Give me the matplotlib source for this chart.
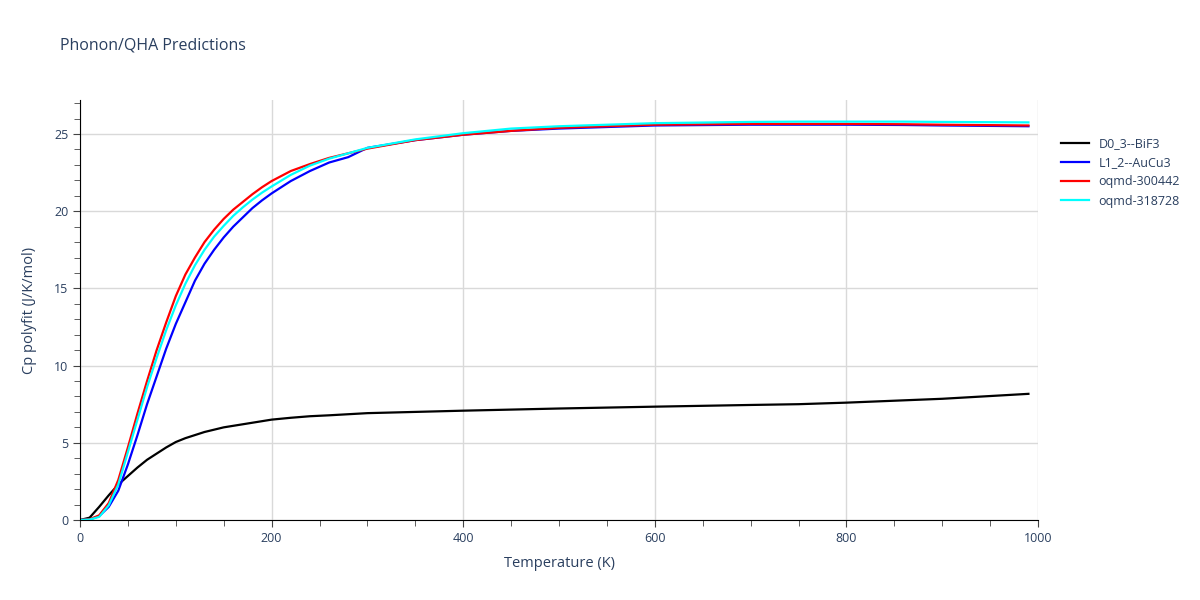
import numpy as np
import matplotlib.pyplot as plt
from matplotlib.ticker import MultipleLocator

# temperature grid (K) shared by all series
T = [0, 10, 20, 30, 40, 50, 60, 70, 80, 90, 100, 110, 120, 130, 140, 150, 160, 170,
     180, 190, 200, 220, 240, 260, 280, 300, 350, 400, 450, 500, 600, 700, 750,
     800, 860, 900, 990]

cp_bif3 = [0.0, 0.15, 0.85, 1.6, 2.3, 2.85, 3.4, 3.9, 4.3, 4.7, 5.05, 5.3, 5.5, 5.7,
           5.85, 6.0, 6.1, 6.2, 6.3, 6.4, 6.5, 6.62, 6.72, 6.78, 6.85, 6.92, 7.0, 7.08,
           7.15, 7.22, 7.34, 7.45, 7.5, 7.6, 7.75, 7.85, 8.17]

cp_aucu3 = [0.0, 0.03, 0.25, 0.85, 1.9, 3.6, 5.5, 7.5, 9.3, 11.1, 12.7, 14.1, 15.5,
            16.6, 17.5, 18.3, 19.0, 19.6, 20.2, 20.7, 21.15, 21.95, 22.6, 23.15, 23.5,
            24.1, 24.6, 24.95, 25.2, 25.35, 25.55, 25.6, 25.6, 25.6, 25.58, 25.55, 25.5]

cp_300442 = [0.0, 0.05, 0.3, 1.1, 2.6, 4.7, 6.9, 9.0, 11.0, 12.8, 14.5, 15.9, 17.0,
             18.0, 18.8, 19.5, 20.1, 20.6, 21.1, 21.55, 21.95, 22.6, 23.05, 23.45, 23.75,
             24.05, 24.6, 24.95, 25.2, 25.4, 25.6, 25.65, 25.65, 25.65, 25.63, 25.6, 25.55]

cp_318728 = [0.0, 0.03, 0.2, 0.95, 2.3, 4.4, 6.5, 8.6, 10.5, 12.3, 13.9, 15.3, 16.5,
             17.5, 18.35, 19.05, 19.7, 20.25, 20.75, 21.2, 21.6, 22.35, 22.95, 23.4, 23.75,
             24.1, 24.65, 25.05, 25.35, 25.5, 25.7, 25.78, 25.8, 25.8, 25.8, 25.78, 25.75]

labels = ['D0_3--BiF3', 'L1_2--AuCu3', 'oqmd-300442', 'oqmd-318728']
colors = ['black', 'blue', 'red', 'cyan']

plt.rcParams['font.family'] = ['Open Sans', 'DejaVu Sans']
txt = '#2a3f5f'

fig = plt.figure(figsize=(12, 6), dpi=100)
ax = fig.add_axes([80/1200, 80/600, 958/1200, 420/600])

for ys, lab, col in zip([cp_bif3, cp_aucu3, cp_300442, cp_318728], labels, colors):
    ax.plot(T, ys, color=col, lw=1.6, label=lab)

ax.set_xlim(0, 1000)
ax.set_ylim(0, 27.2)
ax.xaxis.set_major_locator(MultipleLocator(200))
ax.xaxis.set_minor_locator(MultipleLocator(50))
ax.yaxis.set_major_locator(MultipleLocator(5))
ax.yaxis.set_minor_locator(MultipleLocator(1))
ax.grid(True, which='major', color='#d9d9d9', lw=1)
ax.set_axisbelow(True)
for s in ['top', 'right']:
    ax.spines[s].set_visible(False)
for s in ['left', 'bottom']:
    ax.spines[s].set_color('black')
ax.tick_params(which='major', length=5, color='#444444', labelsize=9, labelcolor=txt)
ax.tick_params(which='minor', length=4, color='#444444')

ax.set_xlabel('Temperature (K)', fontsize=10.5, color=txt, labelpad=8)
ax.set_ylabel('Cp polyfit (J/K/mol)', fontsize=10.5, color=txt, labelpad=12)
fig.text(60/1200, 1 - 45/600, 'Phonon/QHA Predictions', fontsize=11.5, color=txt, va='center')

ax.legend(loc='upper left', bbox_to_anchor=(1.015, 0.933), frameon=False, fontsize=9,
          handlelength=2.2, labelcolor=txt, borderaxespad=0.3, labelspacing=0.5)

fig.savefig('out.png', dpi=100)
